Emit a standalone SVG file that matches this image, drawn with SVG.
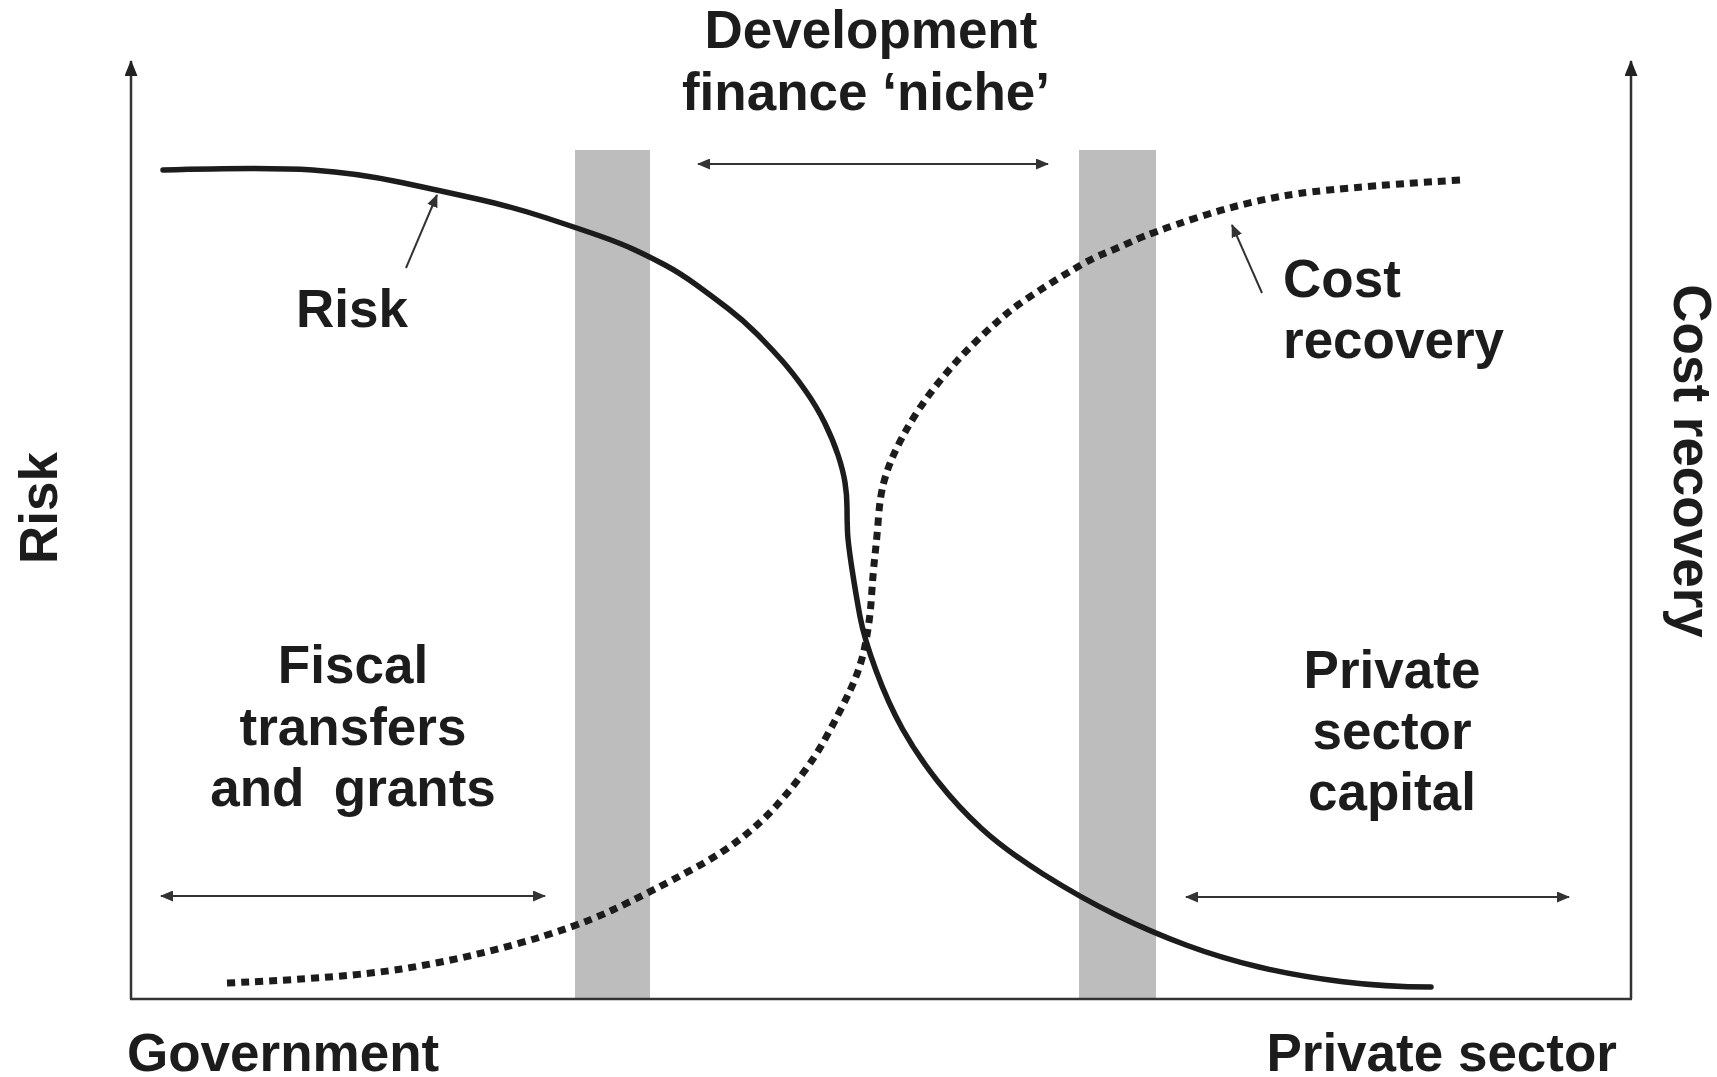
<svg xmlns="http://www.w3.org/2000/svg" width="1717" height="1077" viewBox="0 0 1717 1077">
<style>
  text { font-family: "Liberation Sans", Arial, Helvetica, sans-serif; font-weight: bold; font-size: 53px; fill: #1c1c1c; }
  .mid { text-anchor: middle; }
  .axis { stroke: #333; stroke-width: 2.5; fill: none; }
  .thin { stroke: #333; stroke-width: 2; fill: none; }
  .bar { fill: #bdbdbd; }
  .risk { stroke: #1c1c1c; stroke-width: 5.5; fill: none; stroke-linecap: round; stroke-linejoin: round; }
  .cost { stroke: #1c1c1c; stroke-width: 7; fill: none; stroke-dasharray: 8 6; }
</style>
<defs>
  <marker id="ah" viewBox="0 0 13 11" refX="12" refY="5.5" markerWidth="13" markerHeight="11" markerUnits="userSpaceOnUse" orient="auto-start-reverse">
    <path d="M0,0 L13,5.5 L0,11 Z" fill="#333"/>
  </marker>
  <marker id="axh" viewBox="0 0 16 13" refX="15" refY="6.5" markerWidth="16" markerHeight="13" markerUnits="userSpaceOnUse" orient="auto">
    <path d="M0,0 L16,6.5 L0,13 Z" fill="#222"/>
  </marker>
</defs>
<rect width="1717" height="1077" fill="#ffffff"/>

<g id="bars">
  <rect id="bar-left" class="bar" x="575" y="150" width="75" height="849"/>
  <rect id="bar-right" class="bar" x="1079" y="150" width="77" height="849"/>
</g>

<g id="axes">
  <line class="axis" x1="131" y1="999" x2="131" y2="61" marker-end="url(#axh)"/>
  <line class="axis" x1="1631" y1="999" x2="1631" y2="61" marker-end="url(#axh)"/>
  <line class="axis" x1="130" y1="999" x2="1632" y2="999"/>
</g>

<g id="curves">
  <path id="risk-curve" class="risk" d="M163,170 Q268,167 312.5,170 Q357,173 401.5,182.5 Q446,192 479.5,199.5 Q513,207 546.5,218 Q580,229 600,236 Q620,243 635,250 Q650,257 665,265 Q680,273 696.5,285 Q713,297 728,308.5 Q743,320 756.5,333.5 Q770,347 781.5,360 Q793,373 805,390 Q817,407 825,423.5 Q833,440 838,455 Q843,470 845,482.5 Q847,495 847,507.5 Q847,520 847.5,531.5 Q848,543 852,569 Q856,595 860,616.5 Q864,638 876,670.5 Q888,703 902.5,729 Q917,755 937.5,781 Q958,807 981.5,828.5 Q1005,850 1043,874 Q1081,898 1116,915 Q1151,932 1186,945 Q1221,958 1259,967 Q1297,976 1341,981.5 Q1385,987 1431,987"/>
  <path id="cost-curve" class="cost" d="M227,983 Q344,978 401.5,969 Q459,960 516.5,944 Q574,928 611.5,910.5 Q649,893 697.5,866.5 Q746,840 777,805 Q808,770 824,741 Q840,712 850.5,689.5 Q861,667 865.5,643.5 Q870,620 871.5,596.5 Q873,573 875,555 Q877,537 878.5,517 Q880,497 883.5,483.5 Q887,470 892,458.5 Q897,447 903.5,435 Q910,423 918.5,410 Q927,397 937,384.5 Q947,372 957,361 Q967,350 978.5,339 Q990,328 1001.5,318 Q1013,308 1026.5,299 Q1040,290 1053.5,281.5 Q1067,273 1080,265.5 Q1093,258 1103,254 Q1113,250 1133,241 Q1153,232 1197.5,217.5 Q1242,203 1286,195.5 Q1330,188 1460,180"/>
</g>

<g id="connectors">
  <line class="thin" x1="406" y1="268" x2="437" y2="195" marker-end="url(#ah)"/>
  <line class="thin" x1="1262" y1="293" x2="1232" y2="225" marker-end="url(#ah)"/>
  <line class="thin" x1="698" y1="164" x2="1048" y2="164" marker-start="url(#ah)" marker-end="url(#ah)"/>
  <line class="thin" x1="161" y1="896" x2="545" y2="896" marker-start="url(#ah)" marker-end="url(#ah)"/>
  <line class="thin" x1="1186" y1="897" x2="1569" y2="897" marker-start="url(#ah)" marker-end="url(#ah)"/>
</g>

<g id="label-niche">
  <text class="mid" x="871" y="48">Development</text>
  <text class="mid" x="866" y="110">finance ‘niche’</text>
</g>
<g id="label-risk-curve">
  <text x="296" y="327">Risk</text>
</g>
<g id="label-cost-curve">
  <text x="1283" y="297">Cost</text>
  <text x="1283" y="358">recovery</text>
</g>
<g id="label-fiscal">
  <text class="mid" x="353" y="683">Fiscal</text>
  <text class="mid" x="353" y="745">transfers</text>
  <text class="mid" x="353" y="806" style="white-space:pre">and  grants</text>
</g>
<g id="label-private">
  <text class="mid" x="1392" y="688">Private</text>
  <text class="mid" x="1392" y="749">sector</text>
  <text class="mid" x="1392" y="810">capital</text>
</g>
<g id="label-x-axis">
  <text x="127" y="1071">Government</text>
  <text x="1617" y="1071" style="text-anchor:end">Private sector</text>
</g>
<g id="label-y-left">
  <text class="mid" transform="translate(57,508) rotate(-90)">Risk</text>
</g>
<g id="label-y-right">
  <text class="mid" transform="translate(1674,461) rotate(90)">Cost recovery</text>
</g>
</svg>
